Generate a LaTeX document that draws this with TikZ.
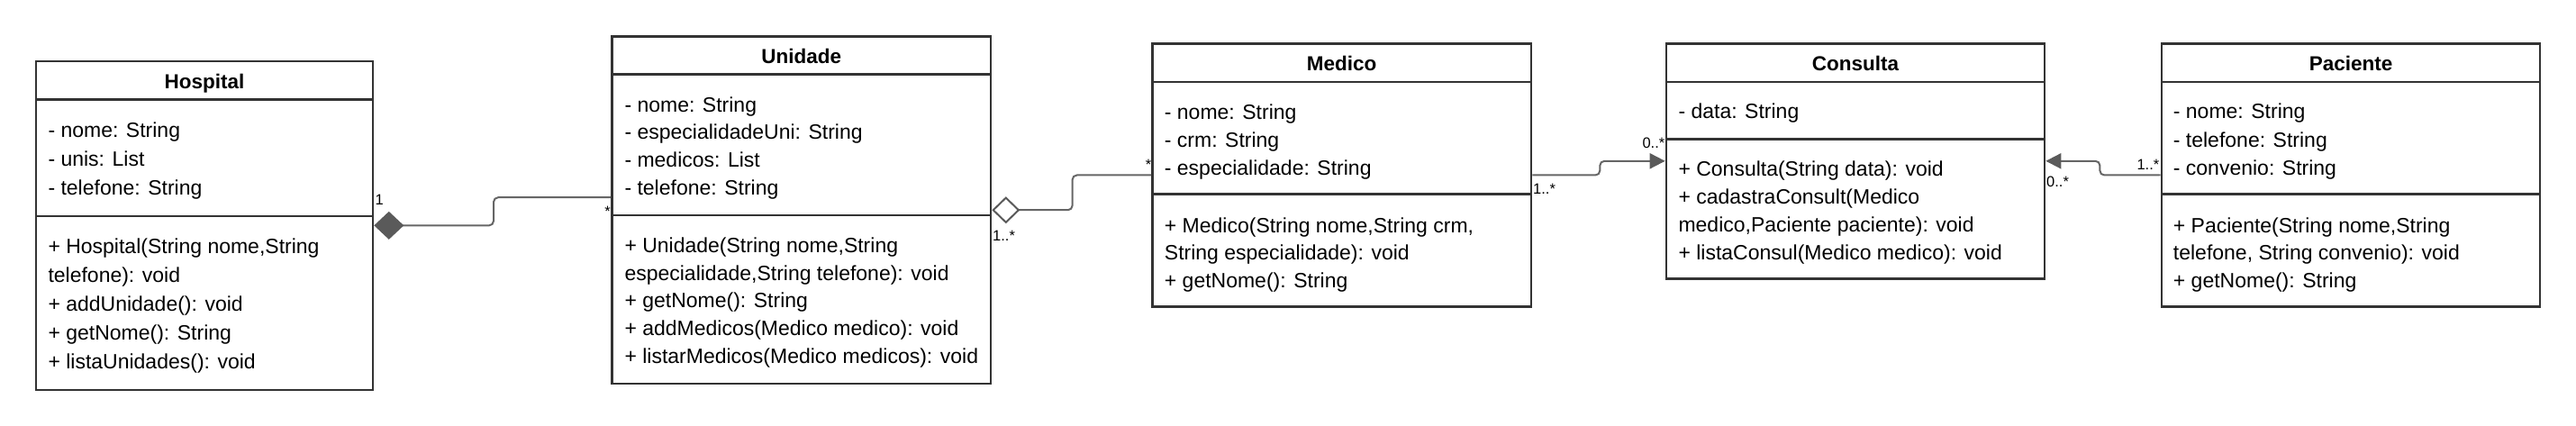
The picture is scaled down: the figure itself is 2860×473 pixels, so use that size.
\documentclass[tikz,border=0pt]{standalone}
\usepackage{fontspec}
\setmainfont{Liberation Sans}
\usetikzlibrary{arrows.meta,calc}
\definecolor{boxc}{HTML}{333333}
\definecolor{connc}{HTML}{666666}
\definecolor{tipc}{HTML}{5A5A5A}
\tikzset{
  cls/.style={draw=boxc, line width=2.6pt, rectangle, inner sep=0pt, fill=white},
  sepline/.style={draw=boxc, line width=2.6pt},
  txt/.style={anchor=base west, inner sep=0pt, text=black, font=\fontsize{23pt}{27pt}\selectfont},
  ttl/.style={anchor=base, inner sep=0pt, text=black, font=\fontsize{22.5pt}{27pt}\selectfont\bfseries},
  mult/.style={inner sep=0pt, text=black, font=\fontsize{16.5pt}{18pt}\selectfont},
  conn/.style={draw=connc, line width=2pt, rounded corners=5pt},
}
\begin{document}
\begin{tikzpicture}[x=1pt, y=-1pt]
\useasboundingbox (0,0) rectangle (2860,473);

% ---------- Hospital ----------
\node[cls, minimum width=374pt, minimum height=365pt] (hosp) at (227,250.35) {};
\draw[sepline] (40,110.7) -- (414,110.7);
\draw[sepline] (40,240) -- (414,240);
\node[ttl] (hosp-t) at (227,99) {Hospital};
\node[txt] (hosp-a1) at (53.3,152.5) {- nome: String};
\node[txt] (hosp-a2) at (53.3,184.2) {- unis: List};
\node[txt] (hosp-a3) at (53.3,216.2) {- telefone: String};
\node[txt] (hosp-m1) at (53.3,281.2) {+ Hospital(String nome,String};
\node[txt] (hosp-m2) at (53.3,313.5) {telefone): void};
\node[txt] (hosp-m3) at (53.3,345.2) {+ addUnidade(): void};
\node[txt] (hosp-m4) at (53.3,377.8) {+ getNome(): String};
\node[txt] (hosp-m5) at (53.3,409.5) {+ listaUnidades(): void};

% ---------- Unidade ----------
\node[cls, minimum width=420.7pt, minimum height=385.5pt] (unid) at (889.65,233.25) {};
\draw[sepline] (679.3,82.5) -- (1100,82.5);
\draw[sepline] (679.3,239) -- (1100,239);
\node[ttl] (unid-t) at (889.65,71) {Unidade};
\node[txt] (unid-a1) at (693.3,124.5) {- nome: String};
\node[txt] (unid-a2) at (693.3,154.5) {- especialidadeUni: String};
\node[txt] (unid-a3) at (693.3,185.8) {- medicos: List};
\node[txt] (unid-a4) at (693.3,216.2) {- telefone: String};
\node[txt] (unid-m1) at (693.3,280.2) {+ Unidade(String nome,String};
\node[txt] (unid-m2) at (693.3,311.2) {especialidade,String telefone): void};
\node[txt] (unid-m3) at (693.3,341.8) {+ getNome(): String};
\node[txt] (unid-m4) at (693.3,372.8) {+ addMedicos(Medico medico): void};
\node[txt] (unid-m5) at (693.3,403.5) {+ listarMedicos(Medico medicos): void};

% ---------- Medico ----------
\node[cls, minimum width=420.7pt, minimum height=292.4pt] (med) at (1489.65,194.5) {};
\draw[sepline] (1279.3,91) -- (1700,91);
\draw[sepline] (1279.3,215.7) -- (1700,215.7);
\node[ttl] (med-t) at (1489.65,79) {Medico};
\node[txt] (med-a1) at (1292.7,132.5) {- nome: String};
\node[txt] (med-a2) at (1292.7,163.8) {- crm: String};
\node[txt] (med-a3) at (1292.7,194.2) {- especialidade: String};
\node[txt] (med-m1) at (1292.7,258.5) {+ Medico(String nome,String crm,};
\node[txt] (med-m2) at (1292.7,288.5) {String especialidade): void};
\node[txt] (med-m3) at (1292.7,319.5) {+ getNome(): String};

% ---------- Consulta ----------
\node[cls, minimum width=420pt, minimum height=261pt] (cons) at (2060,178.8) {};
\draw[sepline] (1850,91) -- (2270,91);
\draw[sepline] (1850,154.3) -- (2270,154.3);
\node[ttl] (cons-t) at (2060,79) {Consulta};
\node[txt] (cons-a1) at (1863.3,131.8) {- data: String};
\node[txt] (cons-m1) at (1863.3,195.8) {+ Consulta(String data): void};
\node[txt] (cons-m2) at (1863.3,226.8) {+ cadastraConsult(Medico};
\node[txt] (cons-m3) at (1863.3,257.8) {medico,Paciente paciente): void};
\node[txt] (cons-m4) at (1863.3,288.5) {+ listaConsul(Medico medico): void};

% ---------- Paciente ----------
\node[cls, minimum width=420pt, minimum height=292.4pt] (pac) at (2610,194.5) {};
\draw[sepline] (2400,91) -- (2820,91);
\draw[sepline] (2400,215.7) -- (2820,215.7);
\node[ttl] (pac-t) at (2610,79) {Paciente};
\node[txt] (pac-a1) at (2412.7,131.8) {- nome: String};
\node[txt] (pac-a2) at (2412.7,163.5) {- telefone: String};
\node[txt] (pac-a3) at (2412.7,194.2) {- convenio: String};
\node[txt] (pac-m1) at (2412.7,258.5) {+ Paciente(String nome,String};
\node[txt] (pac-m2) at (2412.7,288.5) {telefone, String convenio): void};
\node[txt] (pac-m3) at (2412.7,319.5) {+ getNome(): String};

% ---------- Connectors ----------
\coordinate (unid-in) at ($(unid.west)+(0,-14)$);
\draw[conn, {Diamond[length=33pt,width=31pt,fill=tipc,color=tipc]}-] (hosp.east) -- ++(132.7,0) |- (unid-in);
\draw[conn, {Diamond[length=31pt,width=30pt,fill=white,color=tipc,line width=2pt]}-] (unid.east) -- ++(89.3,0) |- (med.west);
\draw[conn, -{Triangle[length=17pt,width=17pt,fill=tipc,color=tipc]}] (med.east) -- ++(75,0) |- (cons.west);
\draw[conn, -{Triangle[length=17pt,width=17pt,fill=tipc,color=tipc]}] (pac.west) -- ++(-67.3,0) |- (cons.east);

% ---------- Multiplicities ----------
\node[mult, anchor=base west] (l1) at (416.5,227.6) {1};
\node[mult, anchor=base east] (l2) at (678,240.4) {*};
\node[mult, anchor=base west] (l3) at (1102,267.6) {1..*};
\node[mult, anchor=base east] (l4) at (1278.5,188.7) {*};
\node[mult, anchor=base west] (l5) at (1702,215.2) {1..*};
\node[mult, anchor=base east] (l6) at (1848.5,164.2) {0..*};
\node[mult, anchor=base west] (l7) at (2272,207.6) {0..*};
\node[mult, anchor=base east] (l8) at (2397.5,188.2) {1..*};
\end{tikzpicture}
\end{document}
